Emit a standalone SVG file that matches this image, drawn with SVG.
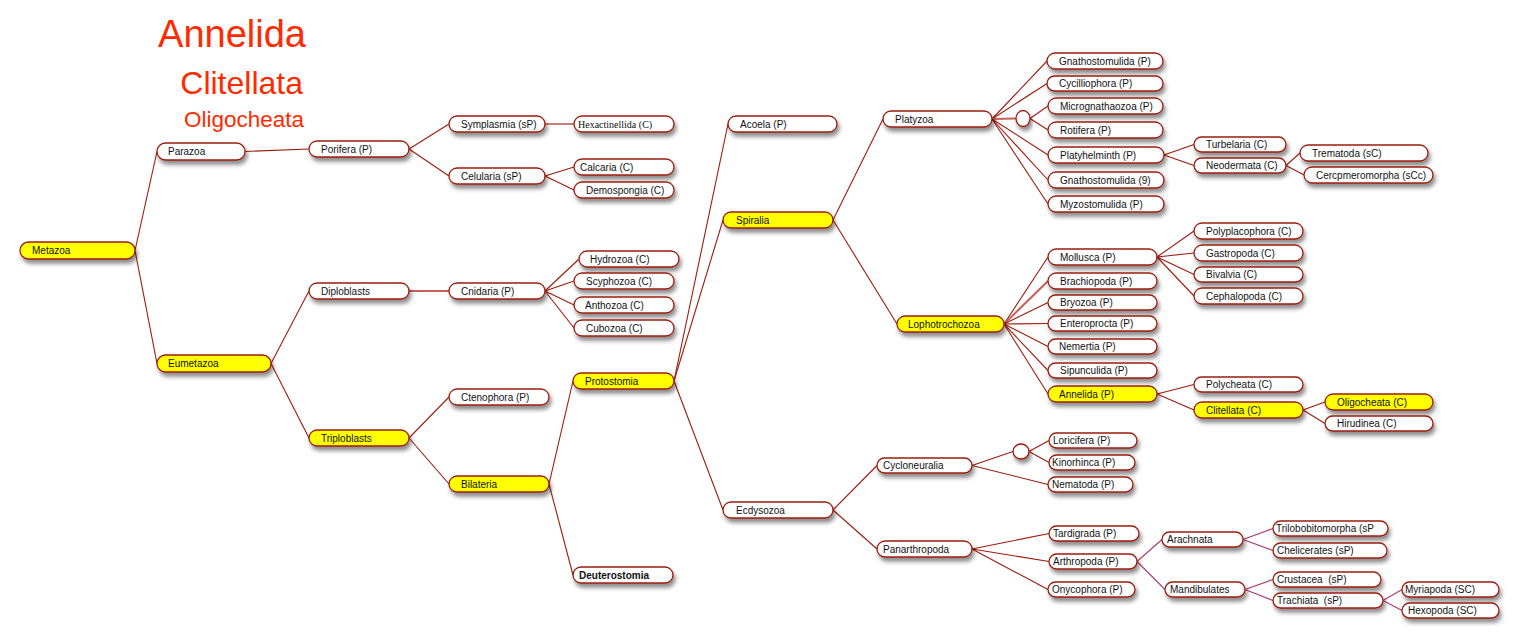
<svg xmlns="http://www.w3.org/2000/svg" width="1520" height="642" viewBox="0 0 1520 642">
<defs>
<filter id="sh" x="-20%" y="-40%" width="140%" height="200%">
<feDropShadow dx="2" dy="4" stdDeviation="2" flood-color="#000" flood-opacity="0.45"/>
</filter>
<style>
.n rect, .n ellipse{fill:#fff;stroke:#9b1c0e;stroke-width:1.3;filter:url(#sh)}
.n.y rect{fill:#ffff00}
.n text{font-family:"Liberation Sans",Arial,sans-serif;font-size:10px;fill:#111}
.n text.b{font-weight:bold}
.n text.s{font-family:"Liberation Serif","Times New Roman",serif}
#connectors line{stroke:#9b1c0e;stroke-width:1.1}
#connectors line.l{stroke:#c8605a;stroke-width:2}
#connectors line.m{stroke:#a63a72}
.t{font-family:"Liberation Sans",Arial,sans-serif;fill:#ff2a00;text-anchor:end}
</style>
</defs>
<rect width="1520" height="642" fill="#fff"/>
<g id="titles">
<text class="t" x="306" y="47" font-size="38">Annelida</text>
<text class="t" x="303" y="94" font-size="32">Clitellata</text>
<text class="t" x="304" y="127" font-size="22.5">Oligocheata</text>
</g>
<g id="connectors">
<line x1="135" y1="250.5" x2="157" y2="151.5"/>
<line x1="135" y1="250.5" x2="157" y2="363.5"/>
<line x1="245" y1="151.5" x2="309" y2="149"/>
<line x1="409" y1="149" x2="449" y2="124"/>
<line x1="409" y1="149" x2="449" y2="176"/>
<line x1="545" y1="124" x2="574" y2="124"/>
<line x1="545" y1="176" x2="574" y2="167"/>
<line x1="545" y1="176" x2="574" y2="190"/>
<line x1="271" y1="363.5" x2="309" y2="291"/>
<line x1="271" y1="363.5" x2="309" y2="438"/>
<line class="l" x1="409" y1="291" x2="449" y2="291"/>
<line x1="545" y1="291" x2="579" y2="259"/>
<line x1="545" y1="291" x2="574" y2="281"/>
<line x1="545" y1="291" x2="574" y2="305"/>
<line x1="545" y1="291" x2="574" y2="328"/>
<line x1="409" y1="438" x2="449" y2="397"/>
<line x1="409" y1="438" x2="449" y2="484"/>
<line x1="549" y1="484" x2="573" y2="381"/>
<line x1="549" y1="484" x2="573" y2="575"/>
<line x1="674" y1="381" x2="728" y2="124"/>
<line x1="674" y1="381" x2="723" y2="220"/>
<line x1="674" y1="381" x2="723" y2="510"/>
<line x1="833" y1="220" x2="883" y2="119"/>
<line x1="833" y1="220" x2="897" y2="324"/>
<line x1="992" y1="119" x2="1047" y2="61"/>
<line x1="992" y1="119" x2="1047" y2="83.5"/>
<line class="l" x1="992" y1="119" x2="1016" y2="118.5"/>
<line x1="992" y1="119" x2="1048" y2="155"/>
<line x1="992" y1="119" x2="1048" y2="180"/>
<line x1="992" y1="119" x2="1048" y2="204"/>
<line x1="1030" y1="118.5" x2="1048" y2="106"/>
<line x1="1030" y1="118.5" x2="1048" y2="130"/>
<line x1="1164" y1="155" x2="1194" y2="144.5"/>
<line x1="1164" y1="155" x2="1194" y2="165.5"/>
<line x1="1286" y1="165.5" x2="1300" y2="153"/>
<line x1="1286" y1="165.5" x2="1304" y2="175"/>
<line x1="1004" y1="324" x2="1048" y2="257"/>
<line class="l" x1="1004" y1="324" x2="1048" y2="281"/>
<line x1="1004" y1="324" x2="1048" y2="302.5"/>
<line x1="1004" y1="324" x2="1048" y2="323.5"/>
<line x1="1004" y1="324" x2="1048" y2="346.5"/>
<line x1="1004" y1="324" x2="1048" y2="370.5"/>
<line x1="1004" y1="324" x2="1048" y2="394"/>
<line x1="1157" y1="257" x2="1194" y2="231"/>
<line x1="1157" y1="257" x2="1194" y2="253"/>
<line x1="1157" y1="257" x2="1194" y2="274.5"/>
<line x1="1157" y1="257" x2="1194" y2="296"/>
<line x1="1157" y1="394" x2="1194" y2="384.5"/>
<line x1="1157" y1="394" x2="1194" y2="410"/>
<line x1="1303" y1="410" x2="1325" y2="402"/>
<line x1="1303" y1="410" x2="1325" y2="423.5"/>
<line x1="833" y1="510" x2="877" y2="465.5"/>
<line x1="833" y1="510" x2="877" y2="549"/>
<line x1="972" y1="465.5" x2="1013" y2="451.5"/>
<line x1="972" y1="465.5" x2="1048" y2="484.5"/>
<line x1="1029" y1="451.5" x2="1049" y2="440.5"/>
<line x1="1029" y1="451.5" x2="1049" y2="462.5"/>
<line x1="972" y1="549" x2="1049" y2="533.5"/>
<line x1="972" y1="549" x2="1049" y2="561.5"/>
<line x1="972" y1="549" x2="1048" y2="589.5"/>
<line class="m" x1="1137" y1="561.5" x2="1162" y2="539.5"/>
<line class="m" x1="1137" y1="561.5" x2="1165" y2="589.5"/>
<line class="m" x1="1243" y1="539.5" x2="1273" y2="528.5"/>
<line class="m" x1="1243" y1="539.5" x2="1273" y2="550.5"/>
<line class="m" x1="1245" y1="589.5" x2="1273" y2="579.5"/>
<line class="m" x1="1245" y1="589.5" x2="1273" y2="600.5"/>
<line class="m" x1="1383" y1="600.5" x2="1402" y2="589.5"/>
<line class="m" x1="1383" y1="600.5" x2="1402" y2="610.5"/>
</g>
<g id="metazoa" class="n y"><rect x="20" y="242" width="115" height="17" rx="8.5"/><text x="32" y="254">Metazoa</text></g>
<g id="parazoa" class="n"><rect x="157" y="143" width="88" height="17" rx="8.5"/><text x="168" y="155">Parazoa</text></g>
<g id="eumetazoa" class="n y"><rect x="157" y="355" width="114" height="17" rx="8.5"/><text x="168" y="367">Eumetazoa</text></g>
<g id="porifera" class="n"><rect x="309" y="141" width="100" height="16" rx="8"/><text x="321" y="152.5">Porifera (P)</text></g>
<g id="symplasmia" class="n"><rect x="449" y="116" width="96" height="16" rx="8"/><text x="461" y="127.5">Symplasmia (sP)</text></g>
<g id="hexactinellida" class="n"><rect x="574" y="116" width="100" height="16" rx="8"/><text class="s" x="578" y="127.5">Hexactinellida (C)</text></g>
<g id="celularia" class="n"><rect x="449" y="168" width="96" height="16" rx="8"/><text x="461" y="179.5">Celularia (sP)</text></g>
<g id="calcaria" class="n"><rect x="574" y="159" width="100" height="16" rx="8"/><text x="580" y="170.5">Calcaria (C)</text></g>
<g id="demospongia" class="n"><rect x="574" y="182" width="100" height="16" rx="8"/><text x="586" y="193.5">Demospongia (C)</text></g>
<g id="diploblasts" class="n"><rect x="309" y="283" width="100" height="16" rx="8"/><text x="321" y="294.5">Diploblasts</text></g>
<g id="cnidaria" class="n"><rect x="449" y="283" width="96" height="16" rx="8"/><text x="461" y="294.5">Cnidaria (P)</text></g>
<g id="hydrozoa" class="n"><rect x="579" y="251" width="100" height="16" rx="8"/><text x="590" y="262.5">Hydrozoa (C)</text></g>
<g id="scyphozoa" class="n"><rect x="574" y="273" width="100" height="16" rx="8"/><text x="586" y="284.5">Scyphozoa (C)</text></g>
<g id="anthozoa" class="n"><rect x="574" y="297" width="100" height="16" rx="8"/><text x="585" y="308.5">Anthozoa (C)</text></g>
<g id="cubozoa" class="n"><rect x="574" y="320" width="100" height="16" rx="8"/><text x="586" y="331.5">Cubozoa (C)</text></g>
<g id="triploblasts" class="n y"><rect x="309" y="430" width="100" height="16" rx="8"/><text x="321" y="441.5">Triploblasts</text></g>
<g id="ctenophora" class="n"><rect x="449" y="389" width="100" height="16" rx="8"/><text x="461" y="400.5">Ctenophora (P)</text></g>
<g id="bilateria" class="n y"><rect x="449" y="476" width="100" height="16" rx="8"/><text x="461" y="487.5">Bilateria</text></g>
<g id="protostomia" class="n y"><rect x="573" y="373" width="101" height="16" rx="8"/><text x="585" y="384.5">Protostomia</text></g>
<g id="deuterostomia" class="n"><rect x="573" y="567" width="100" height="16" rx="8"/><text class="b" x="579" y="578.5">Deuterostomia</text></g>
<g id="acoela" class="n"><rect x="728" y="116" width="109" height="16" rx="8"/><text x="740" y="127.5">Acoela (P)</text></g>
<g id="spiralia" class="n y"><rect x="723" y="212" width="110" height="16" rx="8"/><text x="736" y="223.5">Spiralia</text></g>
<g id="ecdysozoa" class="n"><rect x="723" y="502" width="110" height="16" rx="8"/><text x="736" y="513.5">Ecdysozoa</text></g>
<g id="platyzoa" class="n"><rect x="883" y="111" width="109" height="16" rx="8"/><text x="895" y="122.5">Platyzoa</text></g>
<g id="lophotrochozoa" class="n y"><rect x="897" y="316" width="107" height="16" rx="8"/><text x="908" y="327.5">Lophotrochozoa</text></g>
<g id="gnathostomulida-p" class="n"><rect x="1047" y="53" width="116" height="16" rx="8"/><text x="1059" y="64.5">Gnathostomulida (P)</text></g>
<g id="cycilliophora" class="n"><rect x="1047" y="76" width="116" height="15" rx="7.5"/><text x="1059" y="87">Cycilliophora (P)</text></g>
<g id="platyzoa-node" class="n"><ellipse cx="1023" cy="118.5" rx="7" ry="8"/></g>
<g id="micrognathaozoa" class="n"><rect x="1048" y="98" width="115" height="16" rx="8"/><text x="1060" y="109.5">Micrognathaozoa (P)</text></g>
<g id="rotifera" class="n"><rect x="1048" y="122" width="115" height="16" rx="8"/><text x="1060" y="133.5">Rotifera (P)</text></g>
<g id="platyhelminth" class="n"><rect x="1048" y="147" width="116" height="16" rx="8"/><text x="1060" y="158.5">Platyhelminth (P)</text></g>
<g id="gnathostomulida-9" class="n"><rect x="1048" y="172" width="116" height="16" rx="8"/><text x="1060" y="183.5">Gnathostomulida (9)</text></g>
<g id="myzostomulida" class="n"><rect x="1048" y="196" width="116" height="16" rx="8"/><text x="1060" y="207.5">Myzostomulida (P)</text></g>
<g id="turbelaria" class="n"><rect x="1194" y="137" width="92" height="15" rx="7.5"/><text x="1206" y="148">Turbelaria (C)</text></g>
<g id="neodermata" class="n"><rect x="1194" y="158" width="92" height="15" rx="7.5"/><text x="1206" y="169">Neodermata (C)</text></g>
<g id="trematoda" class="n"><rect x="1300" y="145" width="128" height="16" rx="8"/><text x="1312" y="156.5">Trematoda (sC)</text></g>
<g id="cercpmeromorpha" class="n"><rect x="1304" y="167" width="129" height="16" rx="8"/><text x="1316" y="178.5">Cercpmeromorpha (sCc)</text></g>
<g id="mollusca" class="n"><rect x="1048" y="249" width="109" height="16" rx="8"/><text x="1060" y="260.5">Mollusca (P)</text></g>
<g id="brachiopoda" class="n"><rect x="1048" y="273" width="109" height="16" rx="8"/><text x="1060" y="284.5">Brachiopoda (P)</text></g>
<g id="bryozoa" class="n"><rect x="1048" y="295" width="109" height="15" rx="7.5"/><text x="1060" y="306">Bryozoa (P)</text></g>
<g id="enteroprocta" class="n"><rect x="1048" y="316" width="109" height="15" rx="7.5"/><text x="1060" y="327">Enteroprocta (P)</text></g>
<g id="nemertia" class="n"><rect x="1048" y="339" width="109" height="15" rx="7.5"/><text x="1059" y="350">Nemertia (P)</text></g>
<g id="sipunculida" class="n"><rect x="1048" y="363" width="109" height="15" rx="7.5"/><text x="1060" y="374">Sipunculida (P)</text></g>
<g id="annelida" class="n y"><rect x="1048" y="386" width="109" height="16" rx="8"/><text x="1059" y="397.5">Annelida (P)</text></g>
<g id="polyplacophora" class="n"><rect x="1194" y="223" width="109" height="16" rx="8"/><text x="1206" y="234.5">Polyplacophora (C)</text></g>
<g id="gastropoda" class="n"><rect x="1194" y="245" width="109" height="16" rx="8"/><text x="1206" y="256.5">Gastropoda (C)</text></g>
<g id="bivalvia" class="n"><rect x="1194" y="267" width="109" height="15" rx="7.5"/><text x="1206" y="278">Bivalvia (C)</text></g>
<g id="cephalopoda" class="n"><rect x="1194" y="288" width="109" height="16" rx="8"/><text x="1206" y="299.5">Cephalopoda (C)</text></g>
<g id="polycheata" class="n"><rect x="1194" y="377" width="109" height="15" rx="7.5"/><text x="1206" y="388">Polycheata (C)</text></g>
<g id="clitellata" class="n y"><rect x="1194" y="402" width="109" height="16" rx="8"/><text x="1206" y="413.5">Clitellata (C)</text></g>
<g id="oligocheata" class="n y"><rect x="1325" y="394" width="108" height="16" rx="8"/><text x="1337" y="405.5">Oligocheata (C)</text></g>
<g id="hirudinea" class="n"><rect x="1325" y="416" width="108" height="15" rx="7.5"/><text x="1337" y="427">Hirudinea (C)</text></g>
<g id="cycloneuralia" class="n"><rect x="877" y="458" width="95" height="15" rx="7.5"/><text x="883" y="469">Cycloneuralia</text></g>
<g id="cycloneuralia-node" class="n"><ellipse cx="1021" cy="451.5" rx="8" ry="7.5"/></g>
<g id="loricifera" class="n"><rect x="1049" y="433" width="88" height="15" rx="7.5"/><text x="1053" y="444">Loricifera (P)</text></g>
<g id="kinorhinca" class="n"><rect x="1049" y="455" width="86" height="15" rx="7.5"/><text x="1052" y="466">Kinorhinca (P)</text></g>
<g id="nematoda" class="n"><rect x="1048" y="477" width="85" height="15" rx="7.5"/><text x="1052" y="488">Nematoda (P)</text></g>
<g id="panarthropoda" class="n"><rect x="877" y="541" width="95" height="16" rx="8"/><text x="883" y="552.5">Panarthropoda</text></g>
<g id="tardigrada" class="n"><rect x="1049" y="526" width="90" height="15" rx="7.5"/><text x="1053" y="537">Tardigrada (P)</text></g>
<g id="arthropoda" class="n"><rect x="1049" y="554" width="88" height="15" rx="7.5"/><text x="1053" y="565">Arthropoda (P)</text></g>
<g id="onycophora" class="n"><rect x="1048" y="582" width="87" height="15" rx="7.5"/><text x="1052" y="593">Onycophora (P)</text></g>
<g id="arachnata" class="n"><rect x="1162" y="532" width="81" height="15" rx="7.5"/><text x="1167" y="543">Arachnata</text></g>
<g id="mandibulates" class="n"><rect x="1165" y="582" width="80" height="15" rx="7.5"/><text x="1170" y="593">Mandibulates</text></g>
<g id="trilobobitomorpha" class="n"><rect x="1273" y="521" width="115" height="15" rx="7.5"/><text x="1276" y="532">Trilobobitomorpha (sP</text></g>
<g id="chelicerates" class="n"><rect x="1273" y="543" width="114" height="15" rx="7.5"/><text x="1277" y="554">Chelicerates (sP)</text></g>
<g id="crustacea" class="n"><rect x="1273" y="572" width="108" height="15" rx="7.5"/><text x="1277" y="583" xml:space="preserve">Crustacea  (sP)</text></g>
<g id="trachiata" class="n"><rect x="1273" y="593" width="110" height="15" rx="7.5"/><text x="1277" y="604" xml:space="preserve">Trachiata  (sP)</text></g>
<g id="myriapoda" class="n"><rect x="1402" y="582" width="97" height="15" rx="7.5"/><text x="1405" y="593">Myriapoda (SC)</text></g>
<g id="hexopoda" class="n"><rect x="1402" y="603" width="97" height="15" rx="7.5"/><text x="1408" y="614">Hexopoda (SC)</text></g>
</svg>
